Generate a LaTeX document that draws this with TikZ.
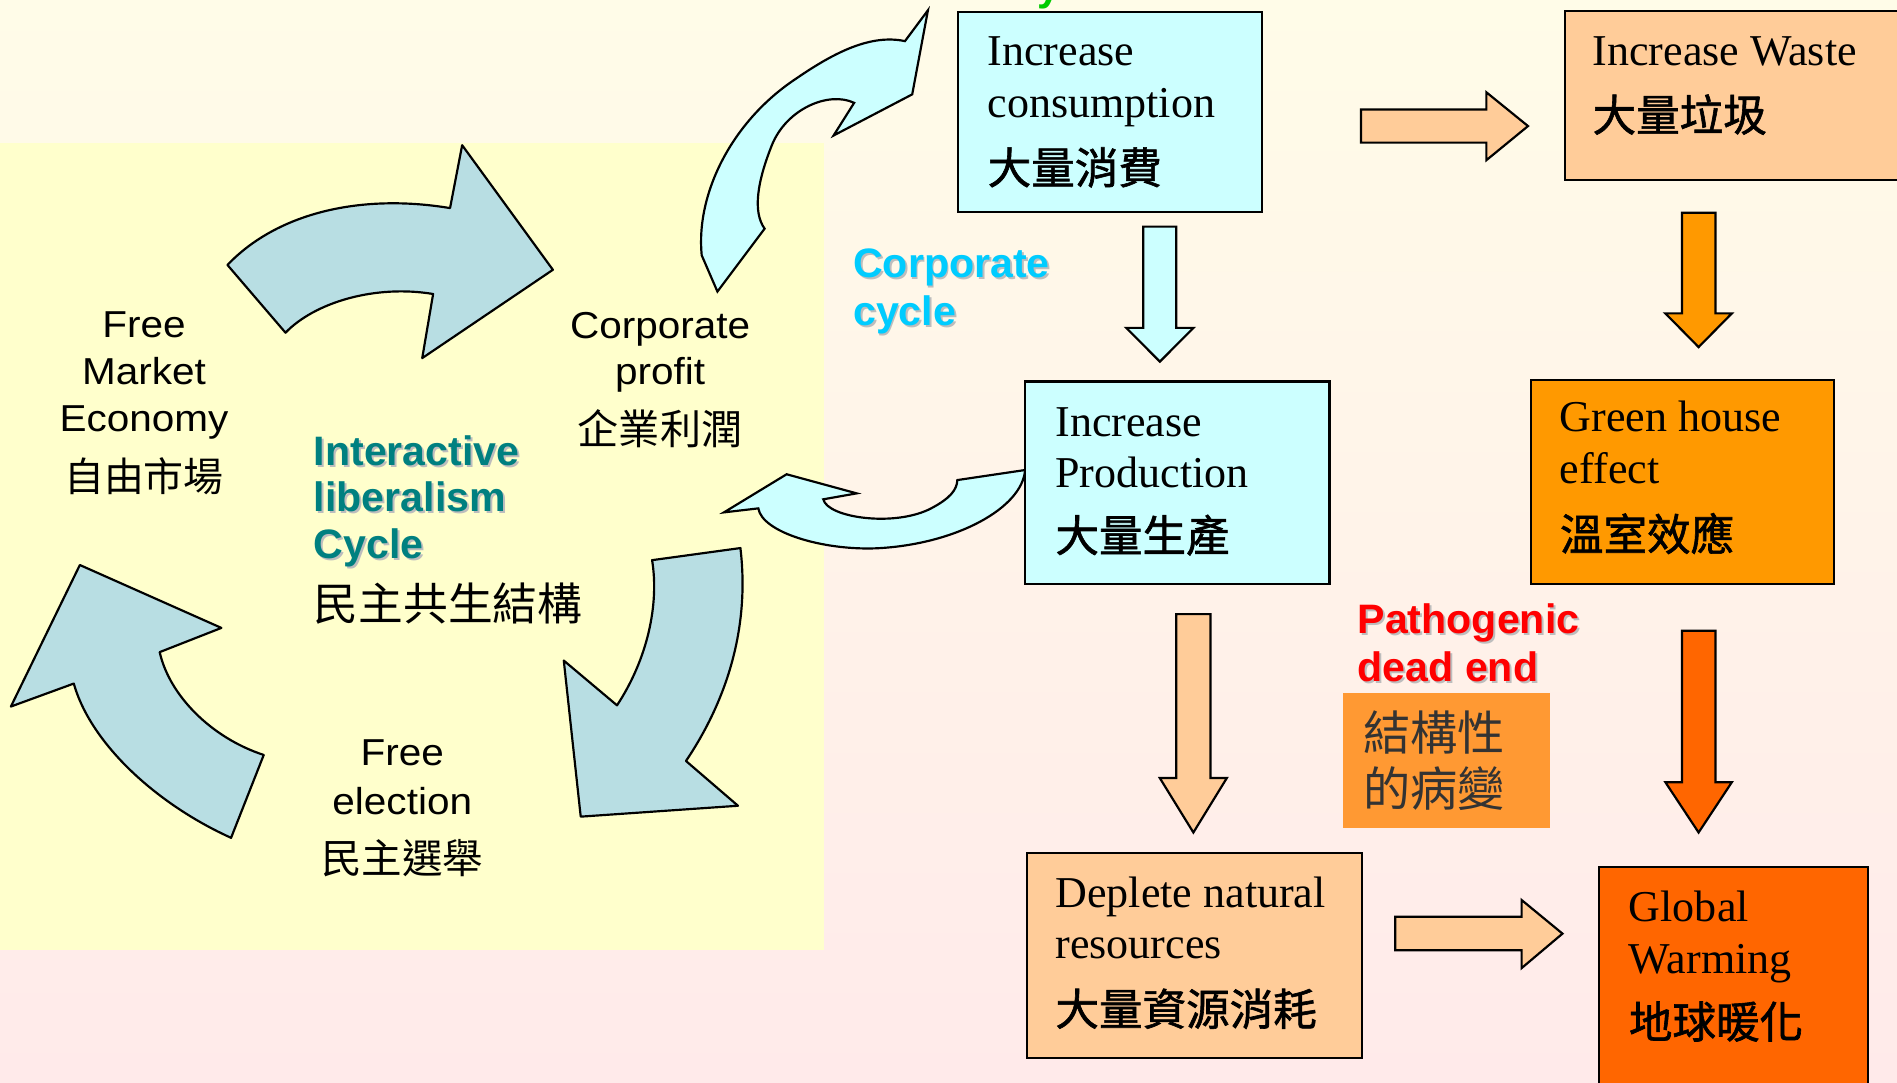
\documentclass[tikz,border=0pt]{standalone}
\usepackage{fontspec}
\setmainfont{Liberation Serif}
\setsansfont{Liberation Sans}
\newfontfamily\cjk{Noto Sans CJK TC}
\newfontfamily\cjkheavy[FakeBold=1.4]{Noto Sans CJK TC}
\newfontfamily\widesans[FakeStretch=1.08]{Liberation Sans}
\usetikzlibrary{positioning}
\usepackage{xcolor}

\definecolor{bgtop}{HTML}{FFFCE8}
\definecolor{bgbottom}{HTML}{FFEAEA}
\definecolor{panelyellow}{HTML}{FFFFCC}
\definecolor{cyanfill}{HTML}{CCFFFF}
\definecolor{peachfill}{HTML}{FFCC99}
\definecolor{orangefill}{HTML}{FF9900}
\definecolor{redorangefill}{HTML}{FF6600}
\definecolor{tagfill}{HTML}{FF9933}
\definecolor{cyclefill}{HTML}{B8DEE3}
\definecolor{tealtext}{HTML}{008080}
\definecolor{cyantext}{HTML}{00CCFF}
\definecolor{redtext}{HTML}{FF0000}
\definecolor{greentext}{HTML}{00CC00}
\definecolor{shadowgray}{HTML}{BDBDBD}

\newcommand\shadowed[2]{\makebox[0pt][l]{\hspace{0.8pt}\raisebox{-0.8pt}{\textcolor{shadowgray}{#2}}}\textcolor{#1}{#2}}

\begin{document}
\begin{tikzpicture}[x=0.5pt, y=-0.5pt,
    chainbox/.style={draw, line width=0.9pt, inner sep=0pt, anchor=north west},
    engline/.style={anchor=base west, inner sep=0pt, font=\fontsize{18.2}{20}\selectfont},
    cjkline/.style={anchor=base west, inner sep=0pt, font=\cjkheavy\fontsize{18}{20}\selectfont},
    cycletext/.style={anchor=base, inner sep=0pt, font=\widesans\fontsize{15.5}{18}\selectfont},
    cyclecjk/.style={anchor=base, inner sep=0pt, font=\cjk\fontsize{16.5}{18}\selectfont},
    boldline/.style={anchor=base west, inner sep=0pt, font=\sffamily\bfseries\fontsize{17}{20}\selectfont},
    blockarrow/.style={draw, line width=0.9pt, line join=miter},
    bigarrow/.style={draw, fill=cyclefill, line width=0.9pt, line join=round}
]
    \useasboundingbox (0,0) rectangle (1568,895);

    %background
    \shade[top color=bgtop, bottom color=bgbottom] (0,0) rectangle (1568,895);
    \fill[panelyellow] (0,118.5) rectangle (681,785);
    \node (title_tail) [boldline, text=greentext] at (857,0) {y};

    %liberalism cycle
    \node (economy_l1) [cycletext] at (119,279) {Free};
    \node (economy_l2) [cycletext] at (119,318) {Market};
    \node (economy_l3) [cycletext] at (119,357) {Economy};
    \node (economy_cjk) [cyclecjk] at (119,406) {自由市場};

    \node (profit_l1) [cycletext] at (545.6,279.5) {Corporate};
    \node (profit_l2) [cycletext] at (545.6,318) {profit};
    \node (profit_cjk) [cyclecjk, font=\cjk\fontsize{17}{18}\selectfont] at (545.6,367) {企業利潤};

    \node (election_l1) [cycletext] at (332.5,633) {Free};
    \node (election_l2) [cycletext] at (332.5,673) {election};
    \node (election_cjk) [cyclecjk, font=\cjk\fontsize{16.75}{18}\selectfont] at (332.5,722) {民主選舉};

    \node (liberalism_l1) [boldline] at (259,384.4) {\shadowed{tealtext}{Interactive}};
    \node (liberalism_l2) [boldline] at (259,423) {\shadowed{tealtext}{liberalism}};
    \node (liberalism_l3) [boldline] at (259,461.5) {\shadowed{tealtext}{Cycle}};
    \node (liberalism_cjk) [cjkline, font=\cjk\fontsize{18.5}{20}\selectfont] at (259,513) {民主共生結構};

    % economy -> profit
    \draw[bigarrow] (188,219) -- (236,275) .. controls (260,250) and (310,235) .. (358,243)
        -- (349,296) -- (457,223) -- (382,120) -- (372,172)
        .. controls (300,160) and (230,175) .. cycle;
    % profit -> election
    \draw[bigarrow] (539,463) -- (612,453) .. controls (620,520) and (600,580) .. (567,629)
        -- (610,666) -- (480,675) -- (466,546) -- (510,583)
        .. controls (535,545) and (545,500) .. cycle;
    % election -> economy
    \draw[bigarrow] (66,467) -- (183,519) -- (132,539) .. controls (140,575) and (175,610) .. (218,624)
        -- (191,692.5) .. controls (130,665) and (75,615) .. (61,565)
        -- (9,584) -- cycle;

    %corporate cycle
    \node (corp_l1) [boldline] at (704.8,229.5) {\shadowed{cyantext}{Corporate}};
    \node (corp_l2) [boldline] at (704.8,269) {\shadowed{cyantext}{cycle}};

    \draw[blockarrow, fill=cyanfill] (767,8.5) -- (754,78) -- (689,112) -- (706,85)
        .. controls (685,75) and (650,90) .. (638,120)
        .. controls (626,150) and (622,175) .. (632,189)
        -- (593,241) -- (580,211)
        .. controls (575,160) and (605,100) .. (658,65)
        .. controls (690,43) and (720,28) .. (748,34) -- cycle;
    \draw[blockarrow, fill=cyanfill] (598.4,423.5) -- (650.2,392) -- (708.1,407.8) -- (680.5,412.7)
        .. controls (684,428) and (740,436) .. (770,420)
        .. controls (785,412) and (791,405) .. (791.3,396.8)
        -- (847.3,388.5)
        .. controls (845,420) and (790,450) .. (724.6,453.2)
        .. controls (680,455) and (630,440) .. (626.8,420.2) -- cycle;

    %chain boxes
    \node (consumption) [chainbox, fill=cyanfill, minimum width=125.7pt, minimum height=82.6pt] at (791,9) {};
    \node (consumption_l1) [engline] at (816,54) {Increase};
    \node (consumption_l2) [engline] at (816,97) {consumption};
    \node (consumption_cjk) [cjkline] at (816,152) {大量消費};

    \node (waste) [chainbox, fill=peachfill, minimum width=143.7pt, minimum height=69.75pt] at (1292.7,8.5) {};
    \node (waste_l1) [engline] at (1316,54) {Increase Waste};
    \node (waste_cjk) [cjkline] at (1316,108.5) {大量垃圾};

    \node (production) [chainbox, fill=cyanfill, minimum width=125.7pt, minimum height=83.6pt] at (846.6,314.5) {};
    \node (production_l1) [engline] at (872,361) {Increase};
    \node (production_l2) [engline] at (872,403) {Production};
    \node (production_cjk) [cjkline] at (872,456) {大量生產};

    \node (greenhouse) [chainbox, fill=orangefill, minimum width=125.3pt, minimum height=84.35pt] at (1264.4,313) {};
    \node (greenhouse_l1) [engline] at (1289,357) {Green house};
    \node (greenhouse_l2) [engline] at (1289,400) {effect};
    \node (greenhouse_cjk) [cjkline] at (1289,455) {溫室效應};

    \node (deplete) [chainbox, fill=peachfill, minimum width=138.65pt, minimum height=84.6pt] at (847.7,704.3) {};
    \node (deplete_l1) [engline] at (872,750.4) {Deplete natural};
    \node (deplete_l2) [engline] at (872,792.5) {resources};
    \node (deplete_cjk) [cjkline] at (872,847.5) {大量資源消耗};

    \node (warming) [chainbox, fill=redorangefill, minimum width=111.25pt, minimum height=97pt] at (1320.5,716) {};
    \node (warming_l1) [engline] at (1346,761.6) {Global};
    \node (warming_l2) [engline] at (1346,804.3) {Warming};
    \node (warming_cjk) [cjkline] at (1346,858) {地球暖化};

    %dead end
    \node (deadend_l1) [boldline] at (1121.8,524) {\shadowed{redtext}{Pathogenic}};
    \node (deadend_l2) [boldline] at (1121.8,563) {\shadowed{redtext}{dead end}};
    \node (lesion) [anchor=north west, inner sep=0pt, fill=tagfill, minimum width=85.3pt, minimum height=56pt] at (1110,572.2) {};
    \node (lesion_l1) [cjkline, text=black!80, font=\cjk\fontsize{19.5}{20}\selectfont] at (1126.7,620) {結構性};
    \node (lesion_l2) [cjkline, text=black!80, font=\cjk\fontsize{19.5}{20}\selectfont] at (1126.7,667) {的病變};

    %block arrows
    \draw[blockarrow, fill=peachfill] (1125,90.5) -- (1228.6,90.5) -- (1228.6,76.3) -- (1263,104.2)
        -- (1228.6,132.4) -- (1228.6,117.9) -- (1125,117.9) -- cycle;
    \draw[blockarrow, fill=cyanfill] (945,187.3) -- (972.3,187.3) -- (972.3,271) -- (986.5,271)
        -- (958.7,298.9) -- (930.9,271) -- (945,271) -- cycle;
    \draw[blockarrow, fill=orangefill] (1390.2,175.9) -- (1417.9,175.9) -- (1417.9,259) -- (1431.5,259)
        -- (1404,286.9) -- (1376.5,259) -- (1390.2,259) -- cycle;
    \draw[blockarrow, fill=peachfill] (972.2,507.6) -- (1000.5,507.6) -- (1000.5,643) -- (1014.1,643)
        -- (986.4,688.1) -- (958.6,643) -- (972.2,643) -- cycle;
    \draw[blockarrow, fill=redorangefill] (1390.2,521.3) -- (1417.9,521.3) -- (1417.9,646.5) -- (1431.5,646.5)
        -- (1404,688.1) -- (1376.5,646.5) -- (1390.2,646.5) -- cycle;
    \draw[blockarrow, fill=peachfill] (1153.3,757.8) -- (1257.7,757.8) -- (1257.7,743.9) -- (1291.5,771.7)
        -- (1257.7,800.2) -- (1257.7,785.4) -- (1153.3,785.4) -- cycle;

\end{tikzpicture}
\end{document}
